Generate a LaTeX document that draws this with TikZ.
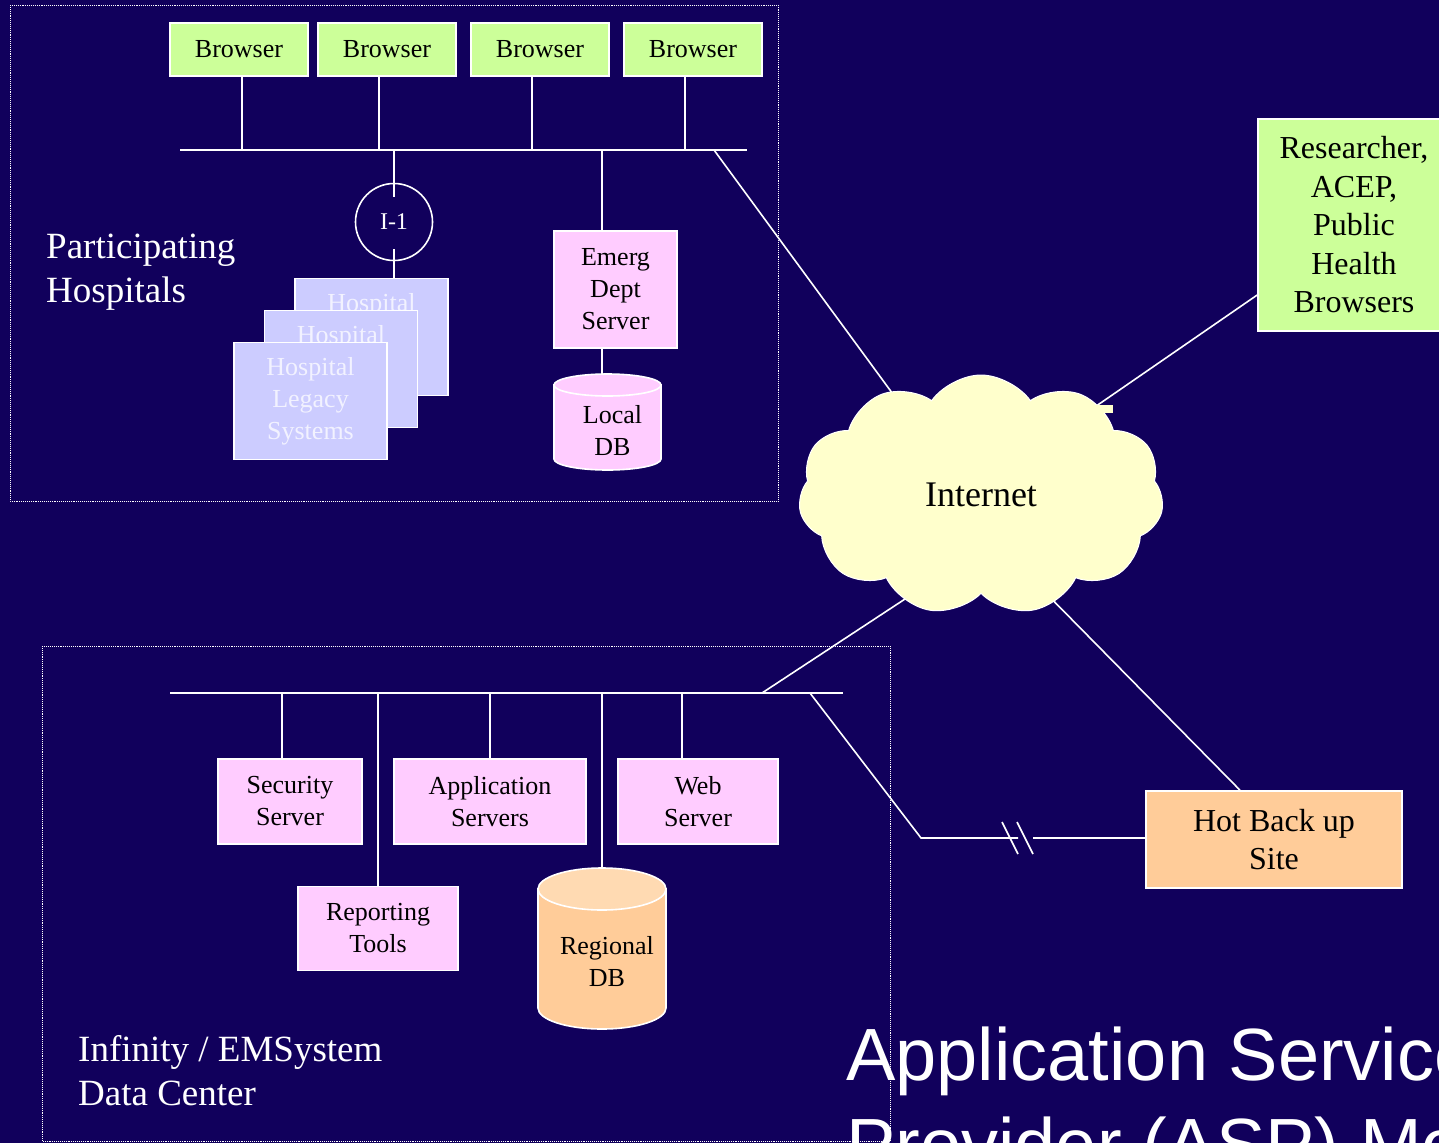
\documentclass[tikz,border=0pt]{standalone}
\usepackage{fontspec}
\setmainfont{Liberation Serif}
\newfontfamily\titlefont{Liberation Sans}
\usepackage{tikz}
\usetikzlibrary{shapes.symbols}

\definecolor{bgblue}{RGB}{17,0,92}
\definecolor{boxgreen}{RGB}{204,255,153}
\definecolor{boxpink}{RGB}{255,204,255}
\definecolor{boxlilac}{RGB}{204,204,255}
\definecolor{boxpeach}{RGB}{255,204,153}
\definecolor{peachtop}{RGB}{255,218,178}
\definecolor{cloudyellow}{RGB}{255,255,204}
\definecolor{lilactext}{RGB}{242,242,255}

\tikzset{
  wire/.style={draw=white, line width=1.6pt},
  zone/.style={draw=white, line width=0.9pt, densely dotted},
  box/.style={draw=white, line width=1.6pt, align=center, inner sep=0pt,
    font=\fontsize{26}{32}\selectfont},
  browser/.style={box, fill=boxgreen, minimum width=138, minimum height=53},
  server/.style={box, fill=boxpink, minimum height=85},
  legacy/.style={box, fill=boxlilac, text=lilactext, minimum width=153, minimum height=117},
  dbtext/.style={align=center, inner sep=0pt, font=\fontsize{26}{32}\selectfont},
  caption/.style={anchor=west, align=left, inner sep=0pt, text=white,
    font=\fontsize{37}{44}\selectfont},
}

% drum: name, centre x, top y, bottom y, half width, end radius, side colour, top colour, text
\newcommand{\dbdrum}[9]{%
  \filldraw[wire, fill=#7] (#2-#5,#3+#6) -- (#2-#5,#4-#6)
    arc[start angle=180, end angle=360, x radius=#5pt, y radius=#6pt]
    -- (#2+#5,#3+#6) -- cycle;
  \filldraw[wire, fill=#8] (#2,#3+#6) ellipse[x radius=#5pt, y radius=#6pt];
  \coordinate (#1top) at (#2,#3);
  \node[dbtext] (#1) at (#2+5,{(#3+#4+#6)/2+3}) {#9};
}

\begin{document}
\begin{tikzpicture}[x=1pt,y=-1pt]
\useasboundingbox (0,0) rectangle (1439,1143);
\fill[bgblue] (0,0) rectangle (1439,1143);

% dotted zones
\draw[zone] (10,5) rectangle (778,501);
\draw[zone] (42,646) rectangle (890,1141);

% hospital side
\node[browser] (B1) at (239,49.5) {Browser};
\node[browser] (B2) at (387,49.5) {Browser};
\node[browser] (B3) at (540,49.5) {Browser};
\node[browser] (B4) at (693,49.5) {Browser};
\node[circle, draw=white, line width=1.6pt, minimum size=77, inner sep=0pt, text=white,
  font=\fontsize{24}{28}\selectfont] (I1) at (394,222) {I-1};
\node[legacy] (H3) at (371.5,337) {Hospital\\Legacy\\Systems};
\node[legacy] (H2) at (341,369) {Hospital\\Legacy\\Systems};
\node[legacy] (H1) at (310.5,401) {Hospital\\Legacy\\Systems};
\node[server, minimum width=123, minimum height=117] (ED) at (615.5,289.5) {Emerg\\Dept\\Server};
\dbdrum{LDB}{607.5}{374}{470}{53.5}{11}{boxpink}{boxpink}{Local\\DB}
\node[caption] (part) at (46,272) {Participating\\Hospitals};

\coordinate (busAL) at (180,150);
\coordinate (busAR) at (747,150);
\coordinate (t1) at (242,150);
\coordinate (t2) at (379,150);
\coordinate (t3) at (532,150);
\coordinate (t4) at (685,150);
\coordinate (tI) at (394,150);
\coordinate (tE) at (602,150);
\coordinate (tN) at (714,150);

% data center side
\node[server, minimum width=144] (sec) at (290,801.5) {Security\\Server};
\node[server, minimum width=192] (app) at (490,801.5) {Application\\Servers};
\node[server, minimum width=160] (web) at (698,801.5) {Web\\Server};
\node[server, minimum width=160, minimum height=84] (rep) at (378,928.5) {Reporting\\Tools};
\dbdrum{RDB}{602}{868}{1029}{64}{21}{boxpeach}{peachtop}{Regional\\DB}
\node[caption] (dc) at (78,1071) {Infinity / EMSystem\\Data Center};

\coordinate (busBL) at (170,693);
\coordinate (busBR) at (843,693);
\coordinate (s1) at (282,693);
\coordinate (s2) at (378,693);
\coordinate (s3) at (490,693);
\coordinate (s4) at (602,693);
\coordinate (s5) at (682,693);
\coordinate (s6) at (762,693);
\coordinate (s7) at (810,693);

% outside
\node[box, fill=boxgreen, minimum width=192, minimum height=212,
  font=\fontsize{32}{38.5}\selectfont] (res) at (1354,225) {Researcher,\\ACEP,\\Public\\Health\\Browsers};
\node[box, fill=boxpeach, minimum width=256, minimum height=97,
  font=\fontsize{32}{38}\selectfont] (hot) at (1274,839.5) {Hot Back up\\Site};

\coordinate (k1) at (921,838);
\coordinate (k2) at (1018,838);
\coordinate (k3) at (1033,838);
\coordinate (nA) at (920,431);
\coordinate (nB) at (1060,431);
\coordinate (nC) at (940,576);
\coordinate (nD) at (1030,577);

\path[wire]
% buses
(busAL) edge (busAR)
(busBL) edge (busBR)
% browser drops
(t1) edge (t1 |- B1.south)
(t2) edge (t2 |- B2.south)
(t3) edge (t3 |- B3.south)
(t4) edge (t4 |- B4.south)
% interface and hospital systems
(tI) edge ([yshift=-14]I1.north)
([yshift=12]I1.south) edge (I1.south |- H3.north)
(tE) edge (tE |- ED.north)
(ED.south -| tE) edge (LDBtop -| tE)
% data center drops
(s1) edge (s1 |- sec.north)
(s2) edge (s2 |- rep.north)
(s3) edge (s3 |- app.north)
(s4) edge (RDBtop)
(s5) edge (s5 |- web.north)
% into the internet
(tN) edge (nA)
([yshift=-70]res.west) edge (nB)
(s6) edge (nC)
([xshift=-34]hot.north) edge (nD);

% leased line with break
\draw[wire] (s7) -- (k1) -- (k2);
\draw[wire] (k3) -- (k3 -| hot.west);
\draw[wire] (k2) ++(-16,-16) -- ++(16,32);
\draw[wire] (k3) ++(-16,-16) -- ++(16,32);

\node[cloud, cloud puffs=11, cloud puff arc=110, aspect=1.54, fill=cloudyellow, draw=white,
  line width=1pt, minimum width=365, minimum height=240,
  font=\fontsize{36}{40}\selectfont] (net) at (981,495) {Internet};
\fill[cloudyellow] (1085,405) rectangle (1113,413);

\node[anchor=north west, align=left, inner sep=0pt, text=white,
  font=\titlefont\fontsize{74}{90}\selectfont] (ttl) at (846,1027) {Application Service\\Provider (ASP) Model};
\end{tikzpicture}
\end{document}
